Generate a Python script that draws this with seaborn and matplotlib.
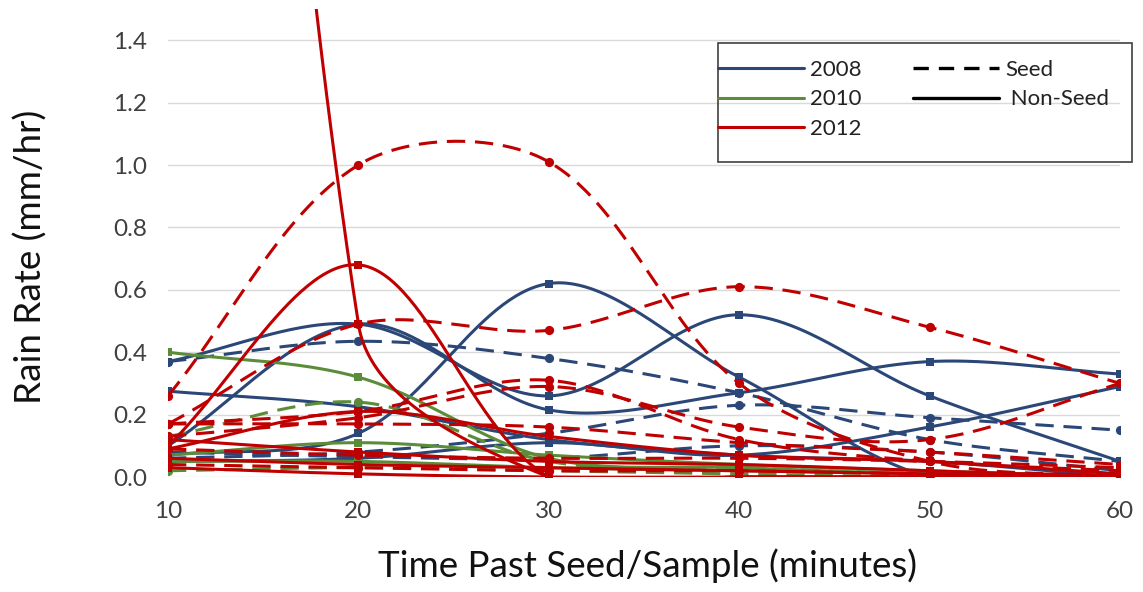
import numpy as np
import matplotlib
matplotlib.use("Agg")
import matplotlib.pyplot as plt
import seaborn as sns
from matplotlib.lines import Line2D
from matplotlib.patches import Rectangle

# ---------------- data ----------------
minutes = [10, 20, 30, 40, 50, 60]
y_ticks = [0.0, 0.2, 0.4, 0.6, 0.8, 1.0, 1.2, 1.4]
years = ["2008", "2010", "2012"]
treatments = ["Seed", "Non-Seed"]

# 2008
y2008_nonseed_a = [0.37, 0.49, 0.26, 0.52, 0.26, 0.05]
y2008_nonseed_b = [0.10, 0.49, 0.215, 0.27, 0.37, 0.33]
y2008_nonseed_c = [0.07, 0.14, 0.62, 0.32, 0.0, 0.0]
y2008_nonseed_d = [0.275, 0.225, 0.12, 0.07, 0.05, 0.0]
y2008_nonseed_e = [0.05, 0.06, 0.11, 0.07, 0.16, 0.29]
y2008_seed_a = [0.37, 0.435, 0.38, 0.27, 0.12, 0.05]
y2008_seed_b = [0.06, 0.08, 0.14, 0.23, 0.19, 0.15]
y2008_seed_c = [0.08, 0.065, 0.06, 0.10, 0.08, 0.02]

# 2010
y2010_nonseed_a = [0.40, 0.32, 0.06, 0.03, 0.01, 0.0]
y2010_nonseed_b = [0.07, 0.11, 0.07, 0.04, 0.02, 0.0]
y2010_nonseed_c = [0.05, 0.05, 0.03, 0.02, 0.01, 0.0]
y2010_seed_a = [0.13, 0.24, 0.05, 0.03, 0.01, 0.0]
y2010_seed_b = [0.02, 0.03, 0.02, 0.01, 0.0, 0.0]

# 2012
y2012_nonseed_a = [8.0, 0.49, 0.0, 0.0, 0.0, 0.0]
y2012_nonseed_b = [0.10, 0.68, 0.0, 0.0, 0.0, 0.0]
y2012_nonseed_c = [0.09, 0.21, 0.13, 0.07, 0.05, 0.01]
y2012_nonseed_d = [0.12, 0.08, 0.05, 0.04, 0.02, 0.0]
y2012_nonseed_e = [0.06, 0.04, 0.03, 0.02, 0.01, 0.0]
y2012_nonseed_f = [0.03, 0.01, 0.0, 0.0, 0.0, 0.0]
y2012_seed_a = [0.26, 1.00, 1.01, 0.30, 0.05, 0.0]
y2012_seed_b = [0.17, 0.49, 0.47, 0.61, 0.48, 0.30]
y2012_seed_c = [0.17, 0.21, 0.31, 0.12, 0.05, 0.02]
y2012_seed_d = [0.13, 0.19, 0.29, 0.16, 0.12, 0.30]
y2012_seed_e = [0.17, 0.17, 0.16, 0.11, 0.08, 0.04]
y2012_seed_f = [0.09, 0.07, 0.06, 0.06, 0.05, 0.03]
y2012_seed_g = [0.04, 0.03, 0.02, 0.02, 0.01, 0.01]

series = [
    ("2008", "Non-Seed", y2008_nonseed_a), ("2008", "Non-Seed", y2008_nonseed_b),
    ("2008", "Non-Seed", y2008_nonseed_c), ("2008", "Non-Seed", y2008_nonseed_d),
    ("2008", "Non-Seed", y2008_nonseed_e),
    ("2008", "Seed", y2008_seed_a), ("2008", "Seed", y2008_seed_b), ("2008", "Seed", y2008_seed_c),
    ("2010", "Non-Seed", y2010_nonseed_a), ("2010", "Non-Seed", y2010_nonseed_b),
    ("2010", "Non-Seed", y2010_nonseed_c),
    ("2010", "Seed", y2010_seed_a), ("2010", "Seed", y2010_seed_b),
    ("2012", "Seed", y2012_seed_a), ("2012", "Seed", y2012_seed_b), ("2012", "Seed", y2012_seed_c),
    ("2012", "Seed", y2012_seed_d), ("2012", "Seed", y2012_seed_e), ("2012", "Seed", y2012_seed_f),
    ("2012", "Seed", y2012_seed_g),
    ("2012", "Non-Seed", y2012_nonseed_a), ("2012", "Non-Seed", y2012_nonseed_b),
    ("2012", "Non-Seed", y2012_nonseed_c), ("2012", "Non-Seed", y2012_nonseed_d),
    ("2012", "Non-Seed", y2012_nonseed_e), ("2012", "Non-Seed", y2012_nonseed_f),
]

# ---------------- style ----------------
colors = {"2008": "#2B4777", "2010": "#5B8C3A", "2012": "#C00000"}
dash_style = (0, (6.0, 3.2))
LW = 2.2

sns.set_theme(style="white")
plt.rcParams["font.family"] = ["Lato", "DejaVu Sans"]

W, H = 1143, 592
fig = plt.figure(figsize=(W / 100, H / 100), dpi=100)
ax = fig.add_axes([168 / W, 1 - 477 / H, (1120 - 168) / W, (477 - 9) / H])
ax.set_xlim(10, 60)
ax.set_ylim(0, 1.5)
for s in ax.spines.values():
    s.set_visible(False)
ax.set_yticks(y_ticks)
ax.set_xticks(minutes)
ax.yaxis.grid(True, color="#D9D9D9", linewidth=1.0)
ax.xaxis.grid(False)
ax.set_axisbelow(True)
ax.tick_params(axis="both", length=0, labelsize=17.5, colors="#404040")
ax.tick_params(axis="y", pad=15)
ax.tick_params(axis="x", pad=17)
ax.set_yticklabels([f"{v:.1f}" for v in y_ticks])
ax.set_xticklabels([str(m) for m in minutes])
ax.set_xlabel("Time Past Seed/Sample (minutes)", fontsize=26.5, color="#111111")
ax.set_ylabel("Rain Rate (mm/hr)", fontsize=26.5, color="#111111")
ax.xaxis.set_label_coords((648 - 168) / 952, -(548 - 477) / 468)
ax.yaxis.set_label_coords((48 - 168) / 952, (477 - 257) / 468)


def excel_smooth(xs, ys, n=60):
    pts = ax.transData.transform(np.column_stack([xs, ys]))
    m = len(pts)
    out = [pts[0]]
    for i in range(m - 1):
        p0 = pts[i - 1] if i > 0 else pts[i]
        p1 = pts[i]
        p2 = pts[i + 1]
        p3 = pts[i + 2] if i + 2 < m else pts[i + 1]
        d01 = np.hypot(*(p1 - p0))
        d12 = np.hypot(*(p2 - p1))
        d23 = np.hypot(*(p3 - p2))
        f1 = d12 / (d01 + d12) if d01 + d12 > 0 else 0
        f2 = d12 / (d12 + d23) if d12 + d23 > 0 else 0
        c1 = p1 + (p2 - p0) * f1 / 3
        c2 = p2 - (p3 - p1) * f2 / 3
        t = np.linspace(0, 1, n)[1:, None]
        seg = (1 - t) ** 3 * p1 + 3 * (1 - t) ** 2 * t * c1 + 3 * (1 - t) * t ** 2 * c2 + t ** 3 * p2
        out.extend(seg)
    out = ax.transData.inverted().transform(np.array(out))
    return out[:, 0], out[:, 1]


z = 2
for year, treat, vals in series:
    col = colors[year]
    sx, sy = excel_smooth(minutes, vals)
    ls = dash_style if treat == "Seed" else "-"
    sns.lineplot(x=sx, y=sy, sort=False, estimator=None, ax=ax, color=col,
                 linewidth=LW, linestyle=ls, zorder=z)
    sns.scatterplot(x=minutes, y=vals, ax=ax, color=col,
                    marker="o" if treat == "Seed" else "s",
                    s=44 if treat == "Seed" else 40, linewidth=0, zorder=z + 0.5)
    z += 1

# legend
handles = [Line2D([0], [0], color=colors[y], lw=2.2) for y in years]
handles += [Line2D([0], [0], color="black", lw=2.4, linestyle=(0, (4.6, 3.0))),
            Line2D([0], [0], color="black", lw=2.4)]
labels = years + ["Seed", " Non-Seed"]
leg = fig.legend(handles, labels, ncol=2, loc="upper left",
                 bbox_to_anchor=(718 / W, 1 - 60 / H), frameon=False,
                 fontsize=16, handlelength=3.85, handletextpad=0.3,
                 columnspacing=2.3, labelspacing=0.42, borderpad=0, borderaxespad=0)
for t in leg.get_texts():
    t.set_color("#222222")
fig.add_artist(Rectangle((718 / W, 1 - 162 / H), (1132 - 718) / W, (162 - 43) / H,
                         transform=fig.transFigure, fill=False, edgecolor="#404040",
                         linewidth=1.2))

fig.savefig("out.png", dpi=100)
